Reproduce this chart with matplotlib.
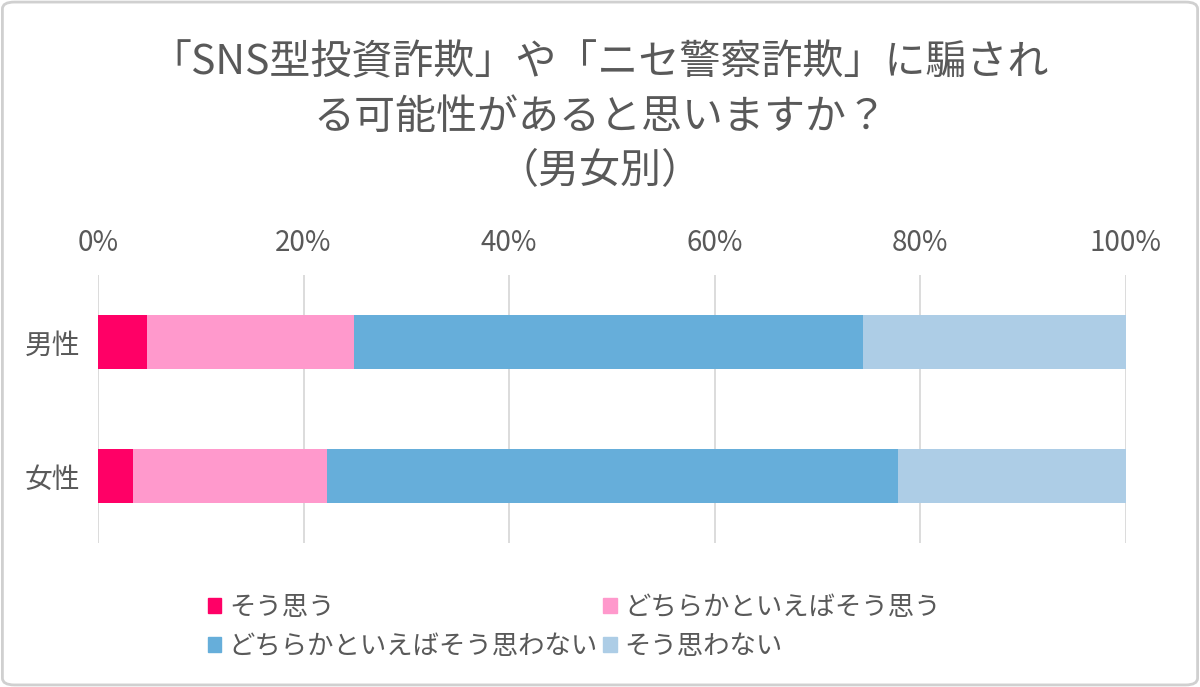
import matplotlib.pyplot as plt
from matplotlib.patches import Patch, FancyBboxPatch
import numpy as np

plt.rcParams['font.family'] = ['Noto Sans CJK JP', 'DejaVu Sans']

# data (percent)
groups = ["男性", "女性"]
answers = ["そう思う", "どちらかといえばそう思う", "どちらかといえばそう思わない", "そう思わない"]
male = [4.8, 20.1, 49.5, 25.6]
female = [3.4, 18.9, 55.5, 22.2]
xticks = [0, 20, 40, 60, 80, 100]

colors = ["#FF0066", "#FF99CC", "#66AEDA", "#ADCDE6"]
text_color = "#595959"
grid_color = "#D9D9D9"

fig = plt.figure(figsize=(12, 6.87), dpi=100)
ax = fig.add_axes([98 / 1200, 1 - 543 / 687, 1028 / 1200, 268 / 687])

values = np.array([male, female])
ypos = np.arange(len(groups))
left = np.zeros(len(groups))
for j, name in enumerate(answers):
    ax.barh(ypos, values[:, j], left=left, height=0.4, color=colors[j], label=name, zorder=3)
    left += values[:, j]

ax.set_xlim(0, 100)
ax.set_ylim(1.5, -0.5)
ax.set_xticks(xticks)
ax.set_xticklabels([f"{t}%" for t in xticks])
ax.set_yticks(ypos)
ax.set_yticklabels(groups)
ax.xaxis.tick_top()
ax.tick_params(axis='both', length=0, labelsize=20, labelcolor=text_color)
ax.tick_params(axis='x', pad=12)
ax.tick_params(axis='y', pad=13)
ax.grid(axis='x', color=grid_color, linewidth=1.3, zorder=0)
for s in ax.spines.values():
    s.set_visible(False)

fig.text(0.5, 1 - 117 / 687, "「SNS型投資詐欺」や「ニセ警察詐欺」に騙され\nる可能性があると思いますか？\n（男女別）",
         ha='center', va='center', fontsize=29.5, color=text_color, linespacing=1.42)

order = [0, 2, 1, 3]
handles = [Patch(color=colors[i]) for i in order]
labels = [answers[i] for i in order]
fig.legend(handles, labels, ncol=2, loc='upper left', bbox_to_anchor=(184 / 1200, 1 - 570 / 687),
           frameon=False, fontsize=19, labelcolor=text_color, handlelength=0.5, handleheight=0.5,
           handletextpad=0.3, columnspacing=0.2, labelspacing=0.45)

border = FancyBboxPatch((0.002, 0.003), 0.996, 0.994, boxstyle="round,pad=0,rounding_size=0.01",
                        transform=fig.transFigure, fill=False, edgecolor="#D0D0D0", linewidth=2)
fig.patches.append(border)

fig.savefig("out.png", dpi=100, facecolor="white")
